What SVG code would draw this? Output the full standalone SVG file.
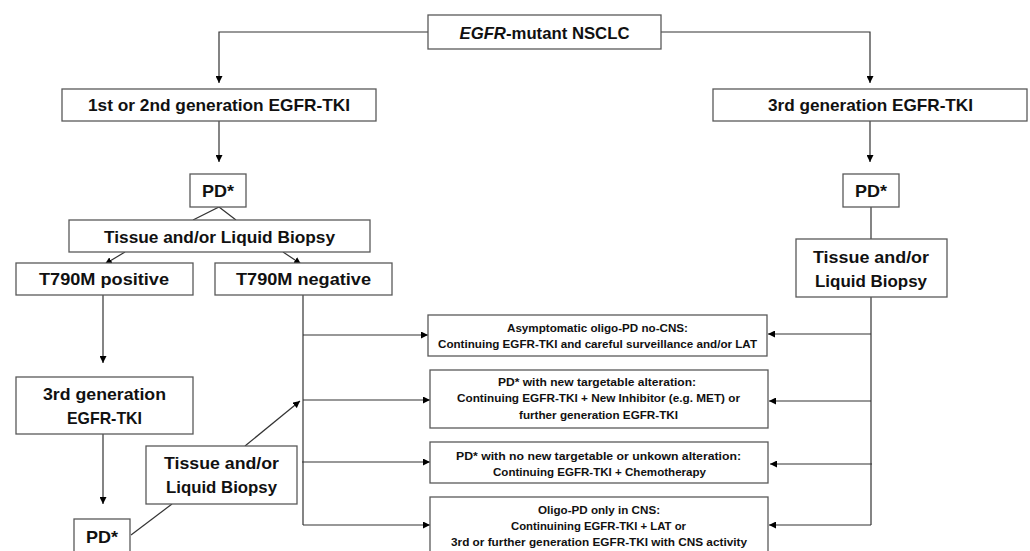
<svg xmlns="http://www.w3.org/2000/svg" width="1030" height="551" viewBox="0 0 1030 551">
<defs>
<marker id="ah" viewBox="0 0 8 8" refX="8" refY="4" markerWidth="7" markerHeight="7" markerUnits="userSpaceOnUse" orient="auto">
<path d="M0,0 L8,4 L0,8 z" fill="#000"/>
</marker>
<style>
.box{fill:#fff;stroke:#595959;stroke-width:1.3}
.t{font-family:"Liberation Sans",Arial,sans-serif;font-weight:bold;font-size:17px;fill:#111;text-anchor:middle}
.s{font-family:"Liberation Sans",Arial,sans-serif;font-weight:bold;font-size:11px;fill:#111;text-anchor:middle}
.c{fill:none;stroke:#333;stroke-width:1.2}
.a{fill:none;stroke:#333;stroke-width:1.2;marker-end:url(#ah)}
</style>
</defs>
<rect width="1030" height="551" fill="#fff"/>
<g id="connectors">
<path class="a" d="M428,32 H219 V83"/>
<path class="a" d="M661,32 H870 V83"/>
<path class="a" d="M219,121 V162"/>
<path class="a" d="M870,121 V162"/>
<path class="c" d="M193,220 L219,207 L236,220"/>
<path class="a" d="M125,252 L105,264"/>
<path class="a" d="M283,252 L301,264"/>
<path class="a" d="M103,295 V363"/>
<path class="a" d="M103,434 V504"/>
<path class="c" d="M131,535 L172,504"/>
<path class="a" d="M245,446 L300,401"/>
<path class="c" d="M303,295 V525"/>
<path class="a" d="M303,335 H428"/>
<path class="a" d="M303,400 H430"/>
<path class="a" d="M302,462 H430"/>
<path class="a" d="M303,525 H430"/>
<path class="c" d="M871,207 V239"/>
<path class="c" d="M871,297 V525"/>
<path class="a" d="M871,334 H768"/>
<path class="a" d="M871,401 H769"/>
<path class="a" d="M872,464 H770"/>
<path class="a" d="M871,525 H769"/>
</g>
<g id="n-root">
<rect class="box" x="428" y="15" width="233" height="34"/>
<text class="t" x="544.5" y="39" textLength="170" lengthAdjust="spacingAndGlyphs"><tspan font-style="italic">EGFR</tspan>-mutant NSCLC</text>
</g>
<g id="n-gen12">
<rect class="box" x="62" y="89" width="314" height="32"/>
<text class="t" x="219" y="111" textLength="262" lengthAdjust="spacingAndGlyphs">1st or 2nd generation EGFR-TKI</text>
</g>
<g id="n-gen3">
<rect class="box" x="713" y="89" width="314" height="32"/>
<text class="t" x="870.5" y="111" textLength="205" lengthAdjust="spacingAndGlyphs">3rd generation EGFR-TKI</text>
</g>
<g id="n-pd-left">
<rect class="box" x="190" y="174" width="56" height="33"/>
<text class="t" x="218" y="197" textLength="32" lengthAdjust="spacingAndGlyphs">PD*</text>
</g>
<g id="n-pd-right">
<rect class="box" x="843" y="174" width="56" height="33"/>
<text class="t" x="871" y="197" textLength="32" lengthAdjust="spacingAndGlyphs">PD*</text>
</g>
<g id="n-biopsy-left">
<rect class="box" x="69" y="220" width="301" height="32"/>
<text class="t" x="219.5" y="243" textLength="231" lengthAdjust="spacingAndGlyphs">Tissue and/or Liquid Biopsy</text>
</g>
<g id="n-t790m-pos">
<rect class="box" x="16" y="263" width="177" height="32"/>
<text class="t" x="104" y="285" textLength="130" lengthAdjust="spacingAndGlyphs">T790M positive</text>
</g>
<g id="n-t790m-neg">
<rect class="box" x="215" y="263" width="177" height="32"/>
<text class="t" x="303.5" y="285" textLength="135" lengthAdjust="spacingAndGlyphs">T790M negative</text>
</g>
<g id="n-gen3-left">
<rect class="box" x="16" y="377" width="177" height="57"/>
<text class="t" x="104.5" y="400" textLength="123" lengthAdjust="spacingAndGlyphs">3rd generation</text>
<text class="t" x="104.5" y="424" textLength="75" lengthAdjust="spacingAndGlyphs">EGFR-TKI</text>
</g>
<g id="n-pd-bottom">
<rect class="box" x="74" y="519" width="56" height="45"/>
<text class="t" x="102" y="543" textLength="32" lengthAdjust="spacingAndGlyphs">PD*</text>
</g>
<g id="n-biopsy-mid">
<rect class="box" x="146" y="446" width="151" height="58"/>
<text class="t" x="221.5" y="469" textLength="115" lengthAdjust="spacingAndGlyphs">Tissue and/or</text>
<text class="t" x="221.5" y="493" textLength="111" lengthAdjust="spacingAndGlyphs">Liquid Biopsy</text>
</g>
<g id="n-biopsy-right">
<rect class="box" x="796" y="239" width="151" height="58"/>
<text class="t" x="871" y="263" textLength="116" lengthAdjust="spacingAndGlyphs">Tissue and/or</text>
<text class="t" x="871" y="287" textLength="112" lengthAdjust="spacingAndGlyphs">Liquid Biopsy</text>
</g>
<g id="n-out1">
<rect class="box" x="428" y="315" width="339" height="41"/>
<text class="s" x="597.5" y="332" textLength="181" lengthAdjust="spacingAndGlyphs">Asymptomatic oligo-PD no-CNS:</text>
<text class="s" x="597.5" y="348" textLength="319" lengthAdjust="spacingAndGlyphs">Continuing EGFR-TKI and careful surveillance and/or LAT</text>
</g>
<g id="n-out2">
<rect class="box" x="430" y="370" width="338" height="58"/>
<text class="s" x="597" y="386" textLength="198" lengthAdjust="spacingAndGlyphs">PD* with new targetable alteration:</text>
<text class="s" x="598.5" y="402" textLength="283" lengthAdjust="spacingAndGlyphs">Continuing EGFR-TKI + New Inhibitor (e.g. MET) or</text>
<text class="s" x="598.5" y="419" textLength="159" lengthAdjust="spacingAndGlyphs">further generation EGFR-TKI</text>
</g>
<g id="n-out3">
<rect class="box" x="430" y="442" width="338" height="41"/>
<text class="s" x="598.5" y="460" textLength="285" lengthAdjust="spacingAndGlyphs">PD* with no new targetable or unkown alteration:</text>
<text class="s" x="599.5" y="476" textLength="213" lengthAdjust="spacingAndGlyphs">Continuing EGFR-TKI + Chemotherapy</text>
</g>
<g id="n-out4">
<rect class="box" x="430" y="497" width="338" height="66"/>
<text class="s" x="599" y="514" textLength="122" lengthAdjust="spacingAndGlyphs">Oligo-PD only in CNS:</text>
<text class="s" x="598.5" y="530" textLength="175" lengthAdjust="spacingAndGlyphs">Continuining EGFR-TKI + LAT or</text>
<text class="s" x="599" y="546" textLength="296" lengthAdjust="spacingAndGlyphs">3rd or further generation EGFR-TKI with CNS activity</text>
</g>
</svg>
